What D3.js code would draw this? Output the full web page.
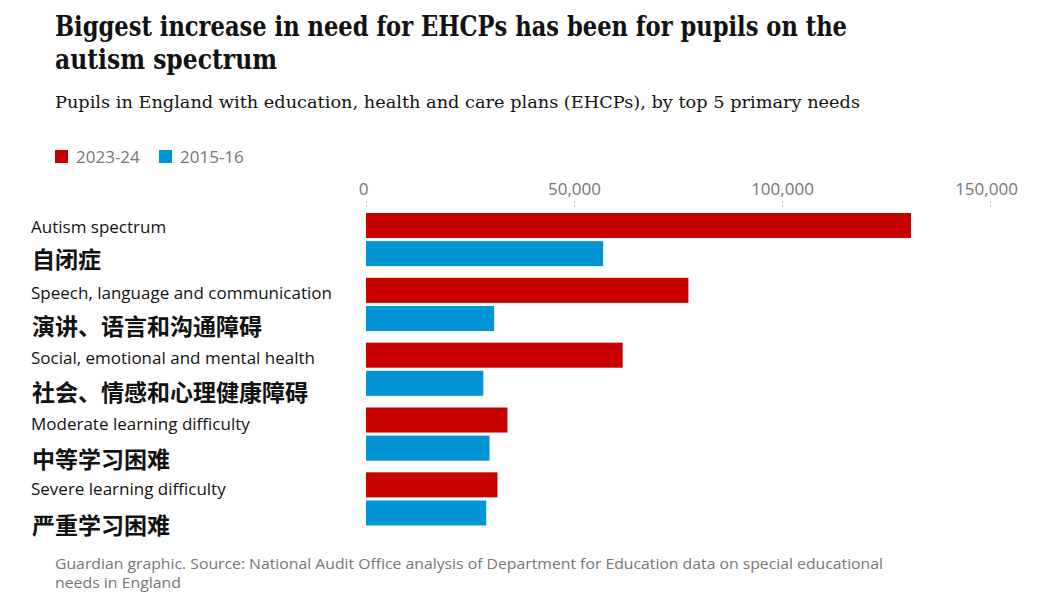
<!DOCTYPE html>
<html><head><meta charset="utf-8">
<script src="https://cdn.jsdelivr.net/npm/d3@7"></script>
<style>
body{margin:0;background:#fff;}
svg{display:block;}
</style></head>
<body>
<svg id="chart" width="1039" height="603"></svg>
<script>
const categories = ["Autism spectrum","Speech, language and communication","Social, emotional and mental health","Moderate learning difficulty","Severe learning difficulty"];
const categoriesZh = ["自闭症","演讲、语言和沟通障碍","社会、情感和心理健康障碍","中等学习困难","严重学习困难"];
const series = ["2023-24","2015-16"];
const values2023 = [131000, 77500, 61700, 34000, 31600];
const values2015 = [57000, 30800, 28200, 29700, 28900];
const tickValues = [0, 50000, 100000, 150000];
const colors = {"2023-24":"#c70000","2015-16":"#0096d6"};

const svg = d3.select("#chart");

// Title
const title = svg.append("g").attr("font-family","'DejaVu Serif', serif").attr("font-weight","bold").attr("fill","#121212");
title.append("text").attr("x",55).attr("y",36).attr("font-size",27)
  .attr("textLength",792).attr("lengthAdjust","spacingAndGlyphs")
  .text("Biggest increase in need for EHCPs has been for pupils on the");
title.append("text").attr("x",55).attr("y",69).attr("font-size",27)
  .attr("textLength",222).attr("lengthAdjust","spacingAndGlyphs")
  .text("autism spectrum");

svg.append("text").attr("x",55).attr("y",108).attr("font-family","'DejaVu Serif', serif")
  .attr("font-size",17).attr("fill","#121212")
  .attr("textLength",805).attr("lengthAdjust","spacingAndGlyphs")
  .text("Pupils in England with education, health and care plans (EHCPs), by top 5 primary needs");

// Legend
const legend = svg.append("g").attr("font-family","'Open Sans', sans-serif").attr("font-size",17).attr("fill","#767676");
const legX = d3.scaleOrdinal().domain(series).range([55,159]);
series.forEach(s=>{
  legend.append("rect").attr("x",legX(s)).attr("y",150).attr("width",13).attr("height",13).attr("fill",colors[s]);
  legend.append("text").attr("x",legX(s)+21).attr("y",163).text(s);
});

// Scales
const x = d3.scaleLinear().domain([0,150000]).range([366,990]);
const y = d3.scaleBand().domain(categories).range([213,525.5]).paddingInner(0.18).paddingOuter(0);
const ySub = d3.scaleBand().domain(series).range([0,y.bandwidth()]).paddingInner(0.11);

// Axis
const axis = d3.axisTop(x).tickValues(tickValues).tickFormat(d3.format(",")).tickSize(6).tickPadding(6);
const gAxis = svg.append("g").attr("transform","translate(0,207)").call(axis);
gAxis.select(".domain").remove();
gAxis.selectAll(".tick line").attr("stroke","#cfcfcf");
gAxis.selectAll(".tick text").attr("font-family","'Open Sans', sans-serif").attr("font-size",17).attr("fill","#767676")
  .attr("text-anchor","middle")
  .attr("dx",(d,i)=> i===0 ? -3 : (i===tickValues.length-1 ? -4 : 0));

// Bars
const rows = categories.map((c,i)=>({cat:c, vals:[{s:"2023-24",v:values2023[i]},{s:"2015-16",v:values2015[i]}]}));
const gRow = svg.append("g").selectAll("g").data(rows).join("g").attr("transform",d=>`translate(0,${y(d.cat)})`);
gRow.selectAll("rect").data(d=>d.vals).join("rect")
  .attr("x",x(0)).attr("y",d=>ySub(d.s)).attr("width",d=>x(d.v)-x(0)).attr("height",ySub.bandwidth())
  .attr("fill",d=>colors[d.s]);

// Labels
const enY = d3.scalePoint().domain(categories).range([233,495]);
const zhY = d3.scalePoint().domain(categories).range([268,534]);
svg.append("g").selectAll("text").data(categories).join("text")
  .attr("x",31).attr("y",d=>enY(d)).attr("font-family","'Open Sans', sans-serif").attr("font-size",17).attr("fill","#121212")
  .text(d=>d);
svg.append("g").selectAll("text").data(categoriesZh).join("text")
  .attr("x",32).attr("y",(d,i)=>zhY(categories[i])).attr("font-family","'Noto Sans CJK SC', sans-serif").attr("font-weight","bold").attr("font-size",23).attr("fill","#121212")
  .text(d=>d);

// Footer
const foot = svg.append("g").attr("font-family","'Open Sans', sans-serif").attr("font-size",15).attr("fill","#767676");
foot.append("text").attr("x",55).attr("y",569).attr("textLength",828).attr("lengthAdjust","spacingAndGlyphs")
  .text("Guardian graphic. Source: National Audit Office analysis of Department for Education data on special educational");
foot.append("text").attr("x",55).attr("y",588).attr("textLength",126).attr("lengthAdjust","spacingAndGlyphs").text("needs in England");
</script>
</body></html>
